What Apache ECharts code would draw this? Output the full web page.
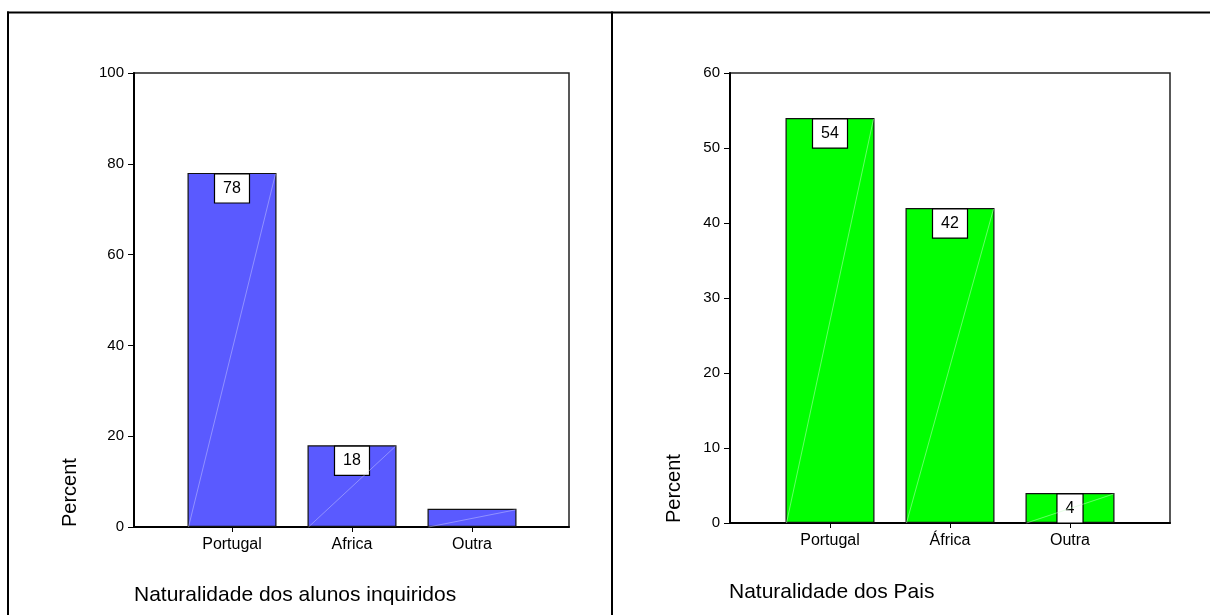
<!DOCTYPE html>
<html>
<head>
<meta charset="utf-8">
<script src="https://cdn.jsdelivr.net/npm/echarts@6/dist/echarts.min.js"></script>
<style>
  html, body { margin: 0; padding: 0; background: #fff; }
  #chart { width: 1210px; height: 615px; }
</style>
</head>
<body>
<div id="chart"></div>
<script>
// Naturalidade dos alunos inquiridos
const categoriesAlunos = ['Portugal', 'Africa', 'Outra'];
const percentAlunos = [78, 18, 4];
const labelShownAlunos = [true, true, false];
const yTicksAlunos = { min: 0, max: 100, interval: 20 };

// Naturalidade dos Pais
const categoriesPais = ['Portugal', 'África', 'Outra'];
const percentPais = [54, 42, 4];
const labelShownPais = [true, true, true];
const yTicksPais = { min: 0, max: 60, interval: 10 };

const FONT = '"Liberation Sans", Arial, sans-serif';
const BAR_W = 89;

// plot frames (pixel layout)
const panels = [
  { frame: { left: 134, top: 73, width: 435, height: 454 }, barsLeft: 172, barsWidth: 360,
    cats: categoriesAlunos, vals: percentAlunos, shown: labelShownAlunos, ticks: yTicksAlunos,
    color: '#5a5aff', diag: 'rgba(210,210,255,0.45)',
    title: 'Naturalidade dos alunos inquiridos', titleX: 134, titleY: 595, percentX: 70 },
  { frame: { left: 730, top: 73, width: 440, height: 450 }, barsLeft: 770, barsWidth: 360,
    cats: categoriesPais, vals: percentPais, shown: labelShownPais, ticks: yTicksPais,
    color: '#00ff00', diag: 'rgba(200,255,200,0.5)',
    title: 'Naturalidade dos Pais', titleX: 729, titleY: 592, percentX: 674 }
];

const grid = [], xAxis = [], yAxis = [], series = [], graphic = [];

panels.forEach((p, i) => {
  const gFrame = i * 2, gBars = i * 2 + 1;
  grid.push({ left: p.frame.left, top: p.frame.top, width: p.frame.width, height: p.frame.height,
              show: true, borderColor: '#222', borderWidth: 1.5, backgroundColor: 'transparent' });
  grid.push({ left: p.barsLeft, top: p.frame.top, width: p.barsWidth, height: p.frame.height });

  // frame axes: value axis with ticks, bottom line only
  xAxis.push({ gridIndex: gFrame, type: 'value', min: 0, max: 1,
    axisLine: { show: true, lineStyle: { color: '#000', width: 2 } },
    axisTick: { show: false }, axisLabel: { show: false }, splitLine: { show: false } });
  yAxis.push({ gridIndex: gFrame, type: 'value', min: p.ticks.min, max: p.ticks.max, interval: p.ticks.interval,
    axisLine: { show: true, lineStyle: { color: '#000', width: 2 } },
    axisTick: { show: true, length: 6, lineStyle: { color: '#000', width: 1 } },
    axisLabel: { margin: 10, color: '#000', fontSize: 15, fontFamily: FONT },
    splitLine: { show: false } });

  // bar axes
  xAxis.push({ gridIndex: gBars, type: 'category', data: p.cats,
    axisLine: { show: false },
    axisTick: { show: true, alignWithLabel: true, length: 5, lineStyle: { color: '#000', width: 1 } },
    axisLabel: { margin: 10, color: '#000', fontSize: 16, fontFamily: FONT } });
  yAxis.push({ gridIndex: gBars, type: 'value', min: p.ticks.min, max: p.ticks.max, show: false });

  series.push({
    type: 'bar', xAxisIndex: gBars, yAxisIndex: gBars, barWidth: BAR_W, z: 2,
    itemStyle: { color: p.color, borderColor: '#111', borderWidth: 1.2 },
    data: p.vals.map((v, k) => ({ value: v, label: { show: p.shown[k] } })),
    label: {
      show: true, position: 'insideTop', distance: 1.5,
      color: '#000', fontSize: 16, fontFamily: FONT, lineHeight: 16,
      backgroundColor: '#fff', borderColor: '#000', borderWidth: 1.2,
      padding: [6, 8, 6, 8]
    }
  });

  // faint diagonal stroke across each bar
  series.push({
    type: 'custom', xAxisIndex: gBars, yAxisIndex: gBars, z: 3, silent: true,
    data: p.vals.map((v, k) => [k, v]),
    renderItem: (params, api) => {
      const top = api.coord([api.value(0), api.value(1)]);
      const base = api.coord([api.value(0), 0]);
      const half = BAR_W / 2 - 1;
      return { type: 'line',
        shape: { x1: top[0] - half, y1: base[1], x2: top[0] + half, y2: top[1] + 1 },
        style: { stroke: p.diag, lineWidth: 1 } };
    }
  });

  // axis titles
  graphic.push({ type: 'text', x: p.percentX, y: p.frame.top + p.frame.height, rotation: Math.PI / 2,
    style: { text: 'Percent', fill: '#000', font: '20px ' + FONT, textAlign: 'left', textVerticalAlign: 'middle' } });
  graphic.push({ type: 'text', x: p.titleX, y: p.titleY,
    style: { text: p.title, fill: '#000', font: '21px ' + FONT, textAlign: 'left', textVerticalAlign: 'middle' } });
});

// panel borders
graphic.push({ type: 'line', shape: { x1: 7, y1: 12.5, x2: 1210, y2: 12.5 }, style: { stroke: '#000', lineWidth: 2 } });
graphic.push({ type: 'line', shape: { x1: 8, y1: 11.5, x2: 8, y2: 615 }, style: { stroke: '#000', lineWidth: 2 } });
graphic.push({ type: 'line', shape: { x1: 612, y1: 11.5, x2: 612, y2: 615 }, style: { stroke: '#000', lineWidth: 2 } });

const chart = echarts.init(document.getElementById('chart'), null, { renderer: 'canvas' });
chart.setOption({
  animation: false,
  backgroundColor: '#fff',
  textStyle: { fontFamily: FONT },
  grid, xAxis, yAxis, series, graphic
});
</script>
</body>
</html>
